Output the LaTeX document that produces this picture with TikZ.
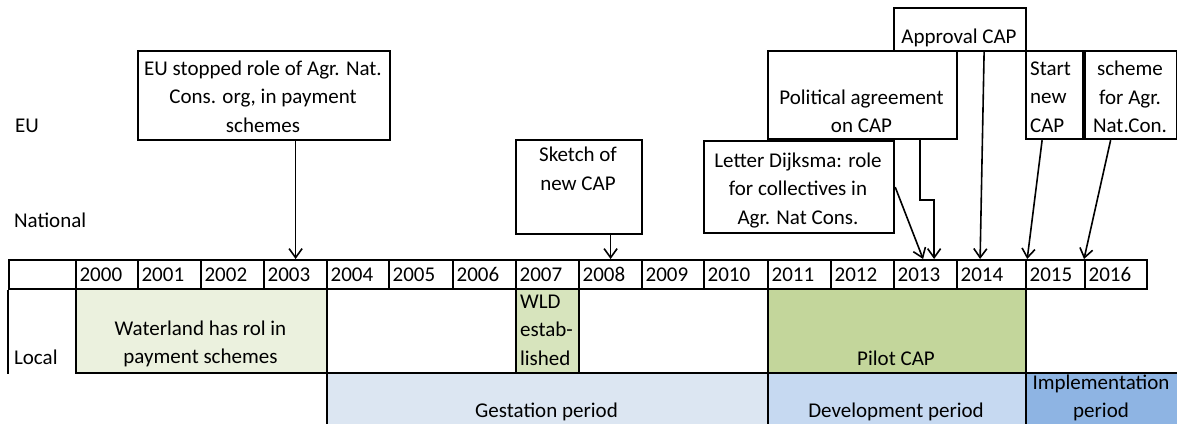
\documentclass[tikz,border=0pt]{standalone}
\usepackage{fontspec}
\setmainfont{Carlito}
\usetikzlibrary{arrows.meta}
\definecolor{wlandc}{HTML}{EBF1DE}
\definecolor{wldc}{HTML}{D7E4BD}
\definecolor{pilotc}{HTML}{C3D69B}
\definecolor{gestc}{HTML}{DCE6F2}
\definecolor{devc}{HTML}{C6D9F1}
\definecolor{implc}{HTML}{8EB4E3}
\begin{document}
\begin{tikzpicture}[x=1pt,y=-1pt,
  font=\fontsize{21}{28.5}\selectfont,
  line width=2.2pt,
  evbox/.style={draw, fill=white, inner sep=0pt, anchor=north west},
  areabox/.style={draw, inner sep=0pt, anchor=north west},
  txt/.style={inner sep=0pt, align=center},
  cell/.style={draw, anchor=north west, minimum height=29pt, inner ysep=0pt, inner xsep=3.5pt, align=left},
  arr/.style={line width=1.6pt, -{Straight Barb[length=9pt,width=13pt]}}]
\useasboundingbox (0,0) rectangle (1177,423);
\clip (0,0) rectangle (1177,423);

% row labels
\node[inner sep=0pt, anchor=west] (lEU) at (14,126) {EU};
\node[inner sep=0pt, anchor=west] (lNat) at (13,220) {National};
\node[inner sep=0pt, anchor=west] (lLoc) at (13,357) {Local};

% timeline row
\node[cell, text width=60pt] (ylabel) at (8,259) {};
\foreach \yr/\xl/\xr in {2000/75/137,2001/137/200,2002/200/263,2003/263/326,
  2004/326/388,2005/388/452,2006/452/515,2007/515/578,2008/578/641,
  2009/641/703,2010/703/767,2011/767/830,2012/830/893,2013/893/956,
  2014/956/1025,2015/1025/1084,2016/1084/1146}{
  \pgfmathsetmacro\tw{\xr-\xl-7}
  \node[cell, text width=\tw pt] (y\yr) at (\xl,259) {\yr};
}
\draw (ylabel.south west) -- ++(0,84);

% local row
\node[areabox, fill=wlandc, minimum width=251pt, minimum height=84pt] (wland) at (75,288) {};
\node[txt] (wlandt) at (200.5,344) {Waterland has rol in\\payment schemes};
\node[areabox, fill=wldc, minimum width=63pt, minimum height=84pt] (wld) at (515,288) {};
\node[txt, align=left, anchor=west] (wldt) at (519,330) {WLD\\estab-\\lished};
\node[areabox, fill=pilotc, minimum width=258pt, minimum height=84pt] (pilot) at (767,288) {};
\node[txt] (pilott) at (896,358) {Pilot CAP};

% periods
\node[areabox, fill=gestc, minimum width=441pt, minimum height=70pt] (gest) at (326,372) {};
\node[txt] (gestt) at (546.5,412) {Gestation period};
\node[areabox, fill=devc, minimum width=258pt, minimum height=70pt] (dev) at (767,372) {};
\node[txt] (devt) at (896,412) {Development period};
\node[areabox, fill=implc, minimum width=170pt, minimum height=70pt] (impl) at (1025,372) {};
\node[txt] (implt) at (1101,398) {Implementation\\period};

% event boxes
\node[evbox, minimum width=252pt, minimum height=89pt] (eu) at (137,50) {};
\node[txt] (eut) at (263,96.5) {EU stopped role of Agr. Nat.\\Cons. org, in payment\\schemes};
\node[evbox, minimum width=126pt, minimum height=94pt] (sketch) at (515,139) {};
\node[txt] (sketcht) at (578,169) {Sketch of\\new CAP};
\node[evbox, minimum width=189pt, minimum height=88pt] (pol) at (767,50) {};
\node[txt] (polt) at (861.5,111.5) {Political agreement\\on CAP};
\node[evbox, minimum width=190pt, minimum height=92pt] (letter) at (703,140) {};
\node[txt] (lettert) at (798,190.5) {Letter Dijksma: role\\for collectives in\\Agr. Nat Cons.};
\node[evbox, minimum width=132pt, minimum height=43pt] (appr) at (893,7) {};
\node[txt] (apprt) at (959,38) {Approval CAP};
\node[evbox, minimum width=57pt, minimum height=88pt] (start) at (1025,50) {};
\node[txt, align=left, anchor=west] (startt) at (1029,97) {Start\\new\\CAP};
\node[evbox, minimum width=92pt, minimum height=88pt] (scheme) at (1084,50) {};
\node[txt] (schemet) at (1130,97) {scheme\\for Agr.\\Nat.Con.};

% connectors
\draw[arr] (y2003.north |- eu.south) -- (y2003.north);
\draw[arr] (y2008.north |- sketch.south) -- (y2008.north);
\draw[arr] (letter.east) -- ([xshift=-2.5pt]y2013.north);
\draw[arr] ([xshift=57.5pt]pol.south) -- ++(0,60) -| ([xshift=8.5pt]y2013.north);
\draw[arr] ([xshift=24pt]appr.south) -- ([xshift=-11.5pt]y2014.north);
\draw[arr] ([xshift=-12.5pt]start.south) -- (y2014.north east);
\draw[arr] ([xshift=-20.5pt]scheme.south) -- (y2016.north west);
\end{tikzpicture}
\end{document}
